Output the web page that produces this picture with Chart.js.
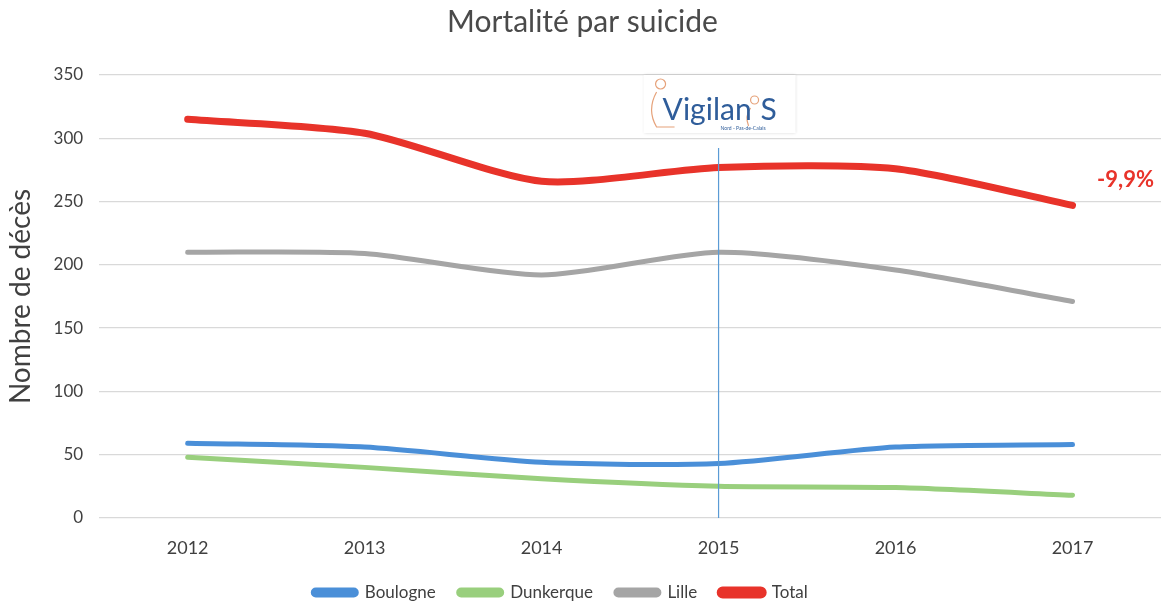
<!DOCTYPE html>
<html lang="fr">
<head>
<meta charset="UTF-8">
<title>Mortalité par suicide</title>
<script src="https://cdn.jsdelivr.net/npm/chart.js"></script>
<style>
  html, body { margin: 0; padding: 0; background: #fff; overflow: hidden; }
  .wrap { width: 1166px; height: 607px; position: relative; overflow: hidden; }
</style>
</head>
<body>
<div class="wrap"><canvas id="chart" width="1166" height="611"></canvas></div>
<script>
  const years = ['2012', '2013', '2014', '2015', '2016', '2017'];
  const boulogne = [59, 56, 44, 43, 56, 58];
  const dunkerque = [48, 40, 31, 25, 24, 18];
  const lille = [210, 209, 192, 210, 196, 171];
  const total = [315, 304, 266, 277, 276, 247];
  const yTicks = [0, 50, 100, 150, 200, 250, 300, 350];

  const FONT = 'Lato, "Open Sans", sans-serif';

  // legend sits a bit left of centre in the original
  const legendShift = {
    id: 'legendShift',
    afterLayout(chart) {
      chart.legend.left -= 22;
      chart.legend.right -= 22;
    }
  };

  // vertical marker, logo and the -9,9% note
  const extras = {
    id: 'extras',
    afterDatasetsDraw(chart) {
      const { ctx, scales: { x, y }, chartArea } = chart;
      const mx = x.getPixelForValue(3);
      ctx.save();
      ctx.strokeStyle = '#5b9bd5';
      ctx.lineWidth = 1.2;
      ctx.beginPath();
      ctx.moveTo(mx, chartArea.top + 73);
      ctx.lineTo(mx, chartArea.bottom);
      ctx.stroke();

      // logo
      ctx.fillStyle = '#fff';
      ctx.shadowColor = 'rgba(0,0,0,0.15)';
      ctx.shadowBlur = 3;
      ctx.fillRect(mx - 75, 75, 152, 58);
      ctx.shadowBlur = 0;
      ctx.strokeStyle = '#e6a27a';
      ctx.lineWidth = 1.2;
      ctx.beginPath();
      ctx.arc(mx - 58, 84, 5, 0, Math.PI * 2);
      ctx.moveTo(mx - 62, 92);
      ctx.quadraticCurveTo(mx - 72, 110, mx - 62, 127);
      ctx.lineTo(mx - 44, 127);
      ctx.moveTo(mx + 40, 100);
      ctx.arc(mx + 36, 100, 4, 0, Math.PI * 2);
      ctx.moveTo(mx + 32, 108);
      ctx.quadraticCurveTo(mx + 26, 116, mx + 30, 126);
      ctx.stroke();
      ctx.fillStyle = '#2f5d9a';
      ctx.font = '30px ' + FONT;
      ctx.textAlign = 'left';
      ctx.textBaseline = 'alphabetic';
      ctx.fillText('Vigilan', mx - 56, 120);
      ctx.fillText('S', mx + 42, 120);
      ctx.font = '5px ' + FONT;
      ctx.fillText('Nord - Pas-de-Calais', mx + 2, 130);

      // variation label
      const ex = x.getPixelForValue(5);
      ctx.fillStyle = '#e8332a';
      ctx.font = 'bold 22px ' + FONT;
      ctx.textAlign = 'center';
      ctx.textBaseline = 'middle';
      ctx.fillText('-9,9%', ex + 53, y.getPixelForValue(total[5]) - 25);
      ctx.restore();
    }
  };

  const mk = (label, data, color, width) => ({
    label, data,
    borderColor: color,
    backgroundColor: color,
    borderWidth: width,
    tension: 0.25,
    pointRadius: 0,
    borderCapStyle: 'round',
    borderJoinStyle: 'round'
  });

  new Chart(document.getElementById('chart'), {
    type: 'line',
    data: {
      labels: years,
      datasets: [
        mk('Boulogne', boulogne, '#4a8fd8', 5),
        mk('Dunkerque', dunkerque, '#99cf7d', 5),
        mk('Lille', lille, '#a5a5a5', 5),
        mk('Total', total, '#e8332a', 7)
      ]
    },
    options: {
      responsive: false,
      animation: false,
      layout: { padding: { left: 4, right: 5, top: 0, bottom: 0 } },
      plugins: {
        title: {
          display: true,
          text: 'Mortalité par suicide',
          color: '#4a4a4a',
          font: { family: FONT, size: 30, weight: 'normal' },
          padding: { top: 4, bottom: 35 }
        },
        legend: {
          position: 'bottom',
          labels: {
            color: '#404040',
            font: { family: FONT, size: 17 },
            boxWidth: 43,
            boxHeight: 5,
            useBorderRadius: true,
            borderRadius: 2.5,
            padding: 23
          }
        },
        tooltip: { enabled: false }
      },
      scales: {
        x: {
          offset: true,
          grid: { display: false, drawTicks: false },
          border: { display: false },
          ticks: { color: '#404040', font: { family: FONT, size: 18 }, padding: 19 },
          afterFit: (s) => { s.height = 43; }
        },
        y: {
          min: 0, max: 350,
          afterBuildTicks: (s) => { s.ticks = yTicks.map(v => ({ value: v })); },
          grid: { color: '#d9d9d9', lineWidth: 1.3, drawTicks: false },
          border: { display: false },
          ticks: { color: '#404040', font: { family: FONT, size: 17 }, padding: 16 },
          title: {
            display: true,
            text: 'Nombre de décès',
            color: '#404040',
            font: { family: FONT, size: 28 },
            padding: { top: 0, bottom: 0 }
          }
        }
      }
    },
    plugins: [legendShift, extras]
  });
</script>
</body>
</html>
